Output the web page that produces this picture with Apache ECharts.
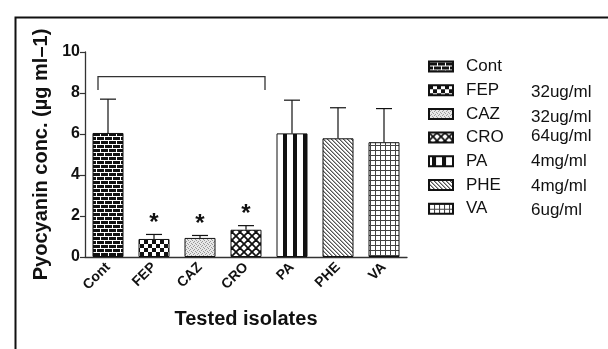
<!DOCTYPE html>
<html><head><meta charset="utf-8">
<script src="https://cdn.jsdelivr.net/npm/echarts@6/dist/echarts.min.js"></script>
<style>html,body{margin:0;padding:0;background:#fff}#c{width:608px;height:349px}</style>
</head><body><div id="c"></div>
<script>
const categories = ['Cont','FEP','CAZ','CRO','PA','PHE','VA'];
const means = [6.05, 0.88, 0.93, 1.33, 6.03, 5.79, 5.60];
const errors = [1.65, 0.22, 0.12, 0.20, 1.62, 1.49, 1.64];
const doses = ['', '32ug/ml', '32ug/ml', '64ug/ml', '4mg/ml', '4mg/ml', '6ug/ml'];
const significant = [false, true, true, true, false, false, false];
const yTicks = [0, 2, 4, 6, 8, 10];
const bracketFrom = 0, bracketTo = 3, bracketTop = 8.8, bracketDrop = 8.15;
const FONT = 'Arial, "Liberation Sans", sans-serif';

function mk(w,h,draw){const c=document.createElement('canvas');c.width=w;c.height=h;const g=c.getContext('2d');g.fillStyle='#fff';g.fillRect(0,0,w,h);draw(g);return c;}
const patterns = [
  mk(8,8,g=>{g.fillStyle='#111';g.fillRect(0,0,8,8);g.fillStyle='#fff';g.fillRect(0,0,8,1);g.fillRect(0,4,8,1);g.fillRect(0,0,1,4);g.fillRect(4,4,1,4);}),
  mk(8,8,g=>{g.fillStyle='#111';g.fillRect(0,0,4,4);g.fillRect(4,4,4,4);}),
  mk(4,4,g=>{g.fillStyle='#e8e8e8';g.fillRect(0,0,4,4);g.fillStyle='#999';g.fillRect(0,0,1,1);g.fillRect(2,1,1,1);g.fillRect(1,2,1,1);g.fillRect(3,3,1,1);}),
  mk(8,8,g=>{g.strokeStyle='#111';g.lineWidth=1.8;for(const dx of [-8,0,8]){g.beginPath();g.moveTo(dx,0);g.lineTo(dx+8,8);g.stroke();g.beginPath();g.moveTo(dx+8,0);g.lineTo(dx,8);g.stroke();}}),
  mk(10,10,g=>{g.fillStyle='#111';g.fillRect(3,0,4,10);}),
  mk(4,4,g=>{g.fillStyle='#555';for(let i=0;i<4;i++){g.fillRect(i,i,1,1);}g.fillStyle='#aaa';for(let i=0;i<4;i++){g.fillRect((i+1)%4,i,1,1);}}),
  mk(5,5,g=>{g.fillStyle='#444';g.fillRect(0,0,5,1);g.fillRect(0,0,1,5);})
];

const chart = echarts.init(document.getElementById('c'), null, {renderer:'canvas'});
const barSeries = categories.map((name,i)=>({
  name, type:'bar', barWidth:31, barGap:'-100%',
  data: categories.map((_,j)=> j===i ? means[j] : '-'),
  itemStyle:{color:{image:patterns[i],repeat:'repeat'}, borderColor:'#111', borderWidth:1},
  emphasis:{disabled:true}, z:2
}));

const errSeries = {
  type:'custom', z:3, silent:true,
  data: means.map((m,i)=>[i,m,errors[i]]),
  renderItem:(params,api)=>{
    const i=api.value(0), m=api.value(1), e=api.value(2);
    const p0=api.coord([i,m]), p1=api.coord([i,m+e]);
    const st={stroke:'#111',lineWidth:1.2};
    return {type:'group',children:[
      {type:'line',shape:{x1:p0[0],y1:p0[1],x2:p1[0],y2:p1[1]},style:st},
      {type:'line',shape:{x1:p1[0]-8,y1:p1[1],x2:p1[0]+8,y2:p1[1]},style:st}
    ]};
  }
};

const starSeries = {
  type:'custom', z:4, silent:true,
  data: means.map((m,i)=>[i, m+errors[i]]).filter((d,i)=>significant[i]),
  renderItem:(params,api)=>{
    const p=api.coord([api.value(0),api.value(1)]);
    return {type:'text',style:{text:'*',x:p[0],y:p[1]+1,align:'center',verticalAlign:'bottom',font:'bold 24px '+FONT,fill:'#111'}};
  }
};

const bracketSeries = {
  type:'custom', z:4, silent:true,
  data:[[bracketFrom,bracketTo,bracketTop,bracketDrop]],
  renderItem:(params,api)=>{
    const a=api.coord([api.value(0),api.value(2)]);
    const b=api.coord([api.value(1),api.value(2)]);
    const d=api.coord([api.value(0),api.value(3)]);
    const x1=a[0]-10, x2=b[0]+19;
    return {type:'polyline',shape:{points:[[x1,d[1]],[x1,a[1]],[x2,a[1]],[x2,d[1]]]},style:{stroke:'#333',lineWidth:1.3,fill:null}};
  }
};

const doseY = [0, 92.5, 117.5, 136.5, 161.5, 186, 210.5];
const doseTexts = doses.map((t,i)=>({type:'text',x:531,y:doseY[i],style:{text:t,font:'17px '+FONT,fill:'#111',verticalAlign:'middle'}})).filter(o=>o.style.text);

chart.setOption({
  animation:false,
  backgroundColor:'#fff',
  grid:{left:85,right:201,top:52,bottom:92,containLabel:false},
  legend:{
    orient:'vertical', left:428, top:58, padding:0, itemWidth:24, itemHeight:10, itemGap:6.7,
    icon:'rect', data:categories, selectedMode:false,
    textStyle:{fontFamily:FONT,fontSize:17,color:'#111',padding:[0,0,0,8]}
  },
  xAxis:{
    type:'category', data:categories,
    axisLine:{lineStyle:{color:'#333',width:1.3}},
    axisTick:{alignWithLabel:true,length:5,lineStyle:{color:'#333',width:1.2}},
    axisLabel:{rotate:45,fontFamily:FONT,fontWeight:'bold',fontSize:14,color:'#111',margin:8},
    name:'Tested isolates', nameLocation:'middle', nameGap:52,
    nameTextStyle:{fontFamily:FONT,fontWeight:'bold',fontSize:20,color:'#111'}
  },
  yAxis:{
    type:'value', min:yTicks[0], max:yTicks[yTicks.length-1], interval:yTicks[1]-yTicks[0],
    splitLine:{show:false},
    axisLine:{show:true,lineStyle:{color:'#333',width:1.3}},
    axisTick:{show:true,length:5,lineStyle:{color:'#333',width:1.2}},
    axisLabel:{fontFamily:FONT,fontWeight:'bold',fontSize:16,color:'#111',margin:5},
    name:'Pyocyanin conc. (µg ml–1)', nameLocation:'middle', nameGap:31, nameRotate:90,
    nameTextStyle:{fontFamily:FONT,fontWeight:'bold',fontSize:20,color:'#111'}
  },
  graphic:[
    {type:'rect',left:13,top:15,shape:{width:600,height:340},style:{fill:null,stroke:'#111',lineWidth:2},silent:true}
  ].concat(doseTexts),
  series: barSeries.concat([errSeries, starSeries, bracketSeries])
});
</script></body></html>
